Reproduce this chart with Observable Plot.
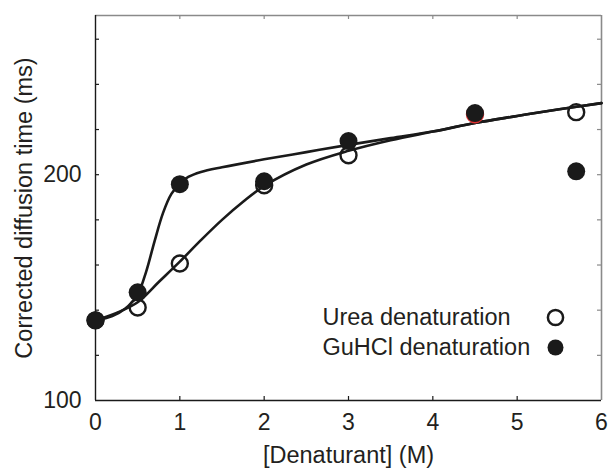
<!DOCTYPE html>
<html><head><meta charset="utf-8">
<script src="https://cdn.jsdelivr.net/npm/d3@7"></script>
<script src="https://cdn.jsdelivr.net/npm/@observablehq/plot@0.6"></script>
<style>body{margin:0;background:#fff} #chart svg{display:block}</style>
</head><body><div id="chart"></div>
<script>
// Measured data points
const concentrations = [0, 0.5, 1, 2, 3, 4.5, 5.7];
const ureaTimes  = [135.5, 141.2, 160.7, 195.3, 208.6, 226.8, 227.7];
const guhclTimes = [135.5, 147.9, 195.8, 197.1, 214.9, 227.3, 201.5];

// Fitted curves
const ureaFitX = [0, 0.25, 0.5, 0.75, 1, 1.25, 1.5, 1.75, 2, 2.5, 3, 3.5, 4, 4.5, 5, 5.5, 6];
const ureaFitY = [135.5, 138.8, 143.5, 152.5, 161.5, 171, 180, 188, 195, 204.5, 210.6, 215.3, 219.1, 222.9, 226, 229, 231.7];
const guhclFitX = [0, 0.2, 0.35, 0.5, 0.6, 0.7, 0.8, 0.9, 1, 1.1, 1.25, 1.5, 2, 2.5, 3, 3.5, 4, 4.5, 5, 5.5, 6];
const guhclFitY = [135.5, 137.4, 140.6, 147, 157, 170.5, 183, 191.5, 196, 199, 201.2, 203.3, 206.8, 210, 213.2, 216.2, 219.1, 222.9, 226, 229, 231.7];

// Axes
const xTicks = [0, 1, 2, 3, 4, 5, 6];
const yTicks = [100, 120, 140, 160, 180, 200, 220, 240, 260];
const yTickLabels = [100, 200];
const xTitle = "[Denaturant] (M)";
const yTitle = "Corrected diffusion time (ms)";
const legendLabels = ["Urea denaturation", "GuHCl denaturation"];

const urea = concentrations.map((x, i) => ({x, y: ureaTimes[i]}));
const guhcl = concentrations.map((x, i) => ({x, y: guhclTimes[i]}));
const ureaFit = ureaFitX.map((x, i) => ({x, y: ureaFitY[i]}));
const guhclFit = guhclFitX.map((x, i) => ({x, y: guhclFitY[i]}));

const W = 611, H = 469, mL = 95, mR = 10, mT = 15, mB = 69;
const fW = W - mL - mR, fH = H - mT - mB;
const tickLen = 4;
const ink = "#1a1a1a", text = "#231f20", grey = "#8a8a8a";
const font = {fill: text, fontSize: 23.5, lineAnchor: "middle"};

const chart = Plot.plot({
  width: W, height: H,
  marginLeft: mL, marginRight: mR, marginTop: mT, marginBottom: mB,
  x: {domain: [0, 6]},
  y: {domain: [100, 270.5]},
  style: "font-family: 'Liberation Sans', Arial, sans-serif; font-size: 23px; color: #231f20; background: #fff;",
  marks: [
    Plot.axisX(xTicks, {tickSize: 0, tickPadding: 13, label: null, fill: text}),
    Plot.axisY(yTicks, {tickSize: 0, tickPadding: 14, label: null, fill: text,
      tickFormat: d => yTickLabels.includes(d) ? String(d) : ""}),
    // inward ticks: bottom/top
    Plot.ruleX(xTicks.slice(1, -1), {x: d => d, insetTop: fH - tickLen, stroke: ink, strokeWidth: 1.2}),
    Plot.ruleX(xTicks.slice(1, -1), {x: d => d, insetBottom: fH - tickLen, stroke: grey, strokeWidth: 1.2}),
    // inward ticks: left/right
    Plot.ruleY(yTicks.slice(1), {y: d => d, insetRight: fW - tickLen, stroke: ink, strokeWidth: 1.2}),
    Plot.ruleY(yTicks.slice(1), {y: d => d, insetLeft: fW - tickLen, stroke: grey, strokeWidth: 1.2}),
    // frame
    Plot.ruleY([270.5], {stroke: grey, strokeWidth: 1.6}),
    Plot.ruleX([6], {stroke: grey, strokeWidth: 1.6}),
    Plot.ruleX([0], {stroke: ink, strokeWidth: 1.4}),
    Plot.ruleY([100], {stroke: ink, strokeWidth: 1.4}),
    // fits
    Plot.line(ureaFit, {x: "x", y: "y", curve: "catmull-rom", stroke: ink, strokeWidth: 2.6}),
    Plot.line(guhclFit, {x: "x", y: "y", curve: "catmull-rom", stroke: ink, strokeWidth: 2.6}),
    // points
    Plot.dot(urea, {x: "x", y: "y", r: 8, fill: "none", strokeWidth: 2.4,
      stroke: d => d.x === 4.5 ? "#e03030" : ink}),
    Plot.dot(guhcl, {x: "x", y: "y", r: 9, fill: ink, stroke: "none"}),
    // legend
    Plot.text([legendLabels[0]], {frameAnchor: "bottom-right", dx: -279, dy: -83, textAnchor: "start", ...font}),
    Plot.text([legendLabels[1]], {frameAnchor: "bottom-right", dx: -279, dy: -53, textAnchor: "start", ...font}),
    Plot.dot([legendLabels[0]], {frameAnchor: "bottom-right", dx: -46, dy: -83, r: 7.6, fill: "none", stroke: ink, strokeWidth: 2.5}),
    Plot.dot([legendLabels[1]], {frameAnchor: "bottom-right", dx: -46, dy: -53, r: 8, fill: ink, stroke: "none"}),
    // axis titles
    Plot.text([xTitle], {frameAnchor: "bottom", dy: 55, textAnchor: "middle", ...font}),
    Plot.text([yTitle], {frameAnchor: "left", dx: -71, rotate: -90, textAnchor: "middle", ...font})
  ]
});
document.getElementById("chart").appendChild(chart);
</script>
</body></html>
